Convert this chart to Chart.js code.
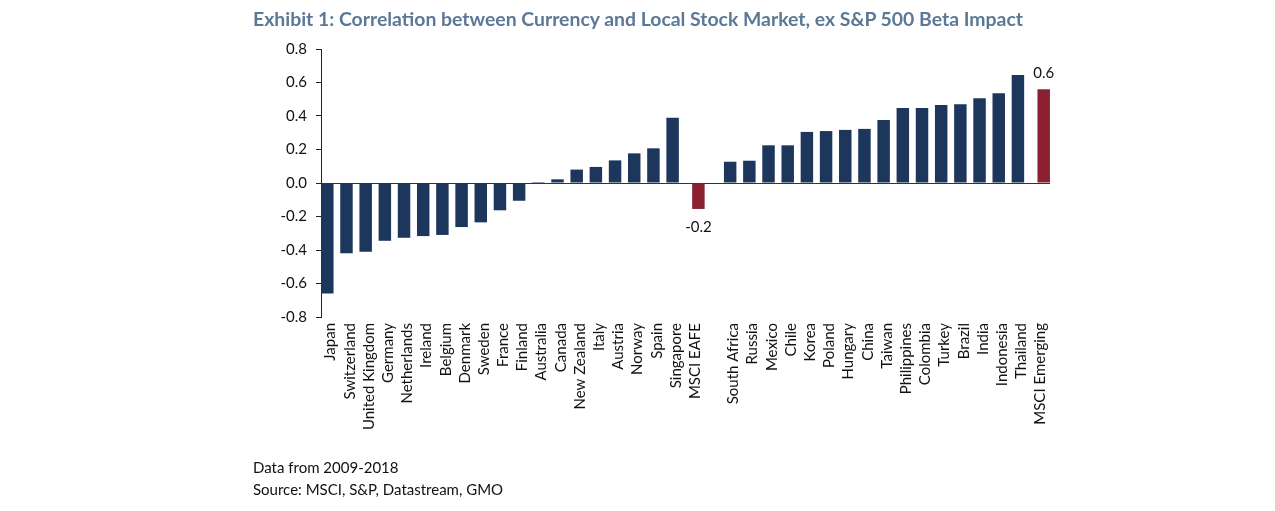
<!DOCTYPE html>
<html>
<head>
<meta charset="utf-8">
<script src="https://cdn.jsdelivr.net/npm/chart.js@4/dist/chart.umd.min.js"></script>
<style>
  body { margin: 0; background: #fff; }
  #wrap { position: relative; width: 1275px; height: 511px; font-family: Lato, "Noto Sans", sans-serif; }
  #title { position: absolute; left: 0; width: 1276px; top: 7px; text-align: center;
           font-weight: bold; font-size: 19.4px; color: #5b7896; }
  .note { position: absolute; left: 253px; font-size: 15px; color: #111; }
</style>
</head>
<body>
<div id="wrap">
  <canvas id="chart" width="1275" height="511"></canvas>
  <div id="title">Exhibit 1: Correlation between Currency and Local Stock Market, ex S&amp;P 500 Beta Impact</div>
  <div class="note" style="top:458px">Data from 2009-2018</div>
  <div class="note" style="top:480px">Source: MSCI, S&amp;P, Datastream, GMO</div>
</div>
<script>
// categories, empty string is the gap between developed and emerging
let categories = [
  'Japan', 'Switzerland', 'United Kingdom', 'Germany', 'Netherlands', 'Ireland',
  'Belgium', 'Denmark', 'Sweden', 'France', 'Finland', 'Australia', 'Canada',
  'New Zealand', 'Italy', 'Austria', 'Norway', 'Spain', 'Singapore', 'MSCI EAFE',
  '',
  'South Africa', 'Russia', 'Mexico', 'Chile', 'Korea', 'Poland', 'Hungary',
  'China', 'Taiwan', 'Philippines', 'Colombia', 'Turkey', 'Brazil', 'India',
  'Indonesia', 'Thailand', 'MSCI Emerging'
]

let countryValues = [
  -0.66, -0.42, -0.41, -0.345, -0.327, -0.317, -0.31, -0.263, -0.235, -0.163,
  -0.106, 0.006, 0.022, 0.08, 0.096, 0.135, 0.177, 0.207, 0.39, null,
  null,
  0.127, 0.133, 0.225, 0.225, 0.305, 0.31, 0.317, 0.323, 0.376, 0.448,
  0.448, 0.466, 0.47, 0.506, 0.536, 0.645, null
]

let indexValues = [
  null, null, null, null, null, null, null, null, null, null,
  null, null, null, null, null, null, null, null, null, -0.155,
  null,
  null, null, null, null, null, null, null, null, null, null,
  null, null, null, null, null, null, 0.56
]

let yTicks = { min: -0.8, max: 0.8, step: 0.2 }

let font = { family: 'Lato, "Noto Sans", sans-serif', size: 14 }
let labelFont = { family: font.family, size: 15 }

const valueLabels = {
  id: 'valueLabels',
  afterDatasetsDraw: (chart) => {
    const {ctx} = chart
    const meta = chart.getDatasetMeta(1)
    ctx.save()
    ctx.font = '15px ' + font.family
    ctx.fillStyle = '#111'
    ctx.textAlign = 'center'
    ctx.textBaseline = 'middle'
    meta.data.forEach((bar, i) => {
      let v = indexValues[i]
      if (v === null) return
      let y = v >= 0 ? bar.y - 16 : bar.y + 18
      ctx.fillText(v.toFixed(1), bar.x, y)
    })
    ctx.restore()
  }
}

new Chart(document.getElementById('chart'), {
  type: 'bar',
  data: {
    labels: categories,
    datasets: [
      { data: countryValues, backgroundColor: '#1c365c' },
      { data: indexValues, backgroundColor: '#8b2030' }
    ]
  },
  options: {
    responsive: false,
    animation: false,
    layout: { padding: { left: 261, right: 225, top: 49, bottom: 73 } },
    datasets: { bar: { categoryPercentage: 0.688, barPercentage: 1.89 } },
    plugins: { legend: { display: false }, tooltip: { enabled: false } },
    scales: {
      x: {
        grid: { display: false, drawTicks: false },
        border: { display: false },
        afterFit: (s) => { s.height = 121 },
        ticks: {
          autoSkip: false, minRotation: 90, maxRotation: 90, padding: 6,
          color: '#111', font: labelFont
        }
      },
      y: {
        min: yTicks.min, max: yTicks.max,
        afterFit: (s) => { s.width = 60 },
        border: { display: true, color: '#222', width: 1 },
        grid: {
          drawOnChartArea: true,
          color: (c) => Math.abs(c.tick.value) < 1e-9 ? '#333' : 'rgba(0,0,0,0)',
          tickColor: '#222', tickLength: 5
        },
        ticks: {
          stepSize: yTicks.step, padding: 9, color: '#111', font: labelFont,
          callback: (v) => v.toFixed(1)
        }
      }
    }
  },
  plugins: [valueLabels]
})
</script>
</body>
</html>
